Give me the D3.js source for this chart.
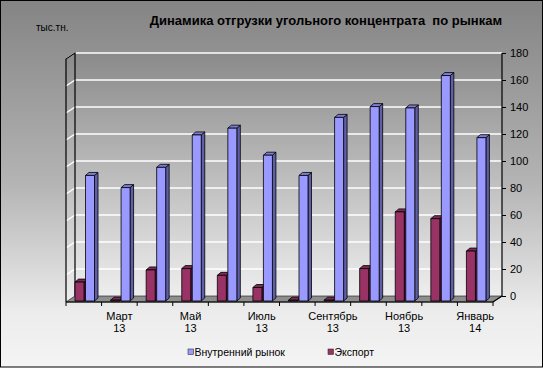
<!DOCTYPE html>
<html><head><meta charset="utf-8">
<script src="https://cdn.jsdelivr.net/npm/d3@7"></script>
<style>body{margin:0;background:#fff}svg{display:block;font-family:Arial,"Liberation Sans",sans-serif}</style>
</head><body><svg id="c" width="543" height="368"></svg>
<script>
const categories = ["Февраль 13","Март 13","Апрель 13","Май 13","Июнь 13","Июль 13","Август 13","Сентябрь 13","Октябрь 13","Ноябрь 13","Декабрь 13","Январь 14"];
const shownLabels = ["","Март 13","","Май 13","","Июль 13","","Сентябрь 13","","Ноябрь 13","","Январь 14"];
const domestic = [93,84,99,123,128,108,93,136,144,143,167,121];
const exportVals = [14,0.6,23,24,19,10,0.6,0.6,24,66,61,37];
const seriesNames = ["Экспорт","Внутренний рынок"];
const yTicks = [0,20,40,60,80,100,120,140,160,180];
const title = "Динамика отгрузки угольного концентрата  по рынкам";
const unitLabel = "тыс.тн.";

const svg = d3.select("#c");
const W=543,H=368;
const defs = svg.append("defs");
const g1 = defs.append("linearGradient").attr("id","bg").attr("x1",0).attr("y1",0).attr("x2",0).attr("y2",1);
g1.append("stop").attr("offset","0").attr("stop-color","#848484");
g1.append("stop").attr("offset","0.5").attr("stop-color","#b4b4b4");
g1.append("stop").attr("offset","0.85").attr("stop-color","#ececec");
g1.append("stop").attr("offset","1").attr("stop-color","#f4f4f4");
const g2 = defs.append("linearGradient").attr("id","wall").attr("x1",0).attr("y1",0).attr("x2",0).attr("y2",1);
g2.append("stop").attr("offset","0").attr("stop-color","#8a8a8a");
g2.append("stop").attr("offset","0.5").attr("stop-color","#bcbcbc");
g2.append("stop").attr("offset","1").attr("stop-color","#eeeeee");

svg.append("rect").attr("x",0.5).attr("y",0.5).attr("width",W-1).attr("height",H-1.5).attr("fill","url(#bg)").attr("stroke","#000");

// geometry
const DX=9, DY=-6; // depth offset
const frontL=66, frontR=493, frontY=302;
const y = d3.scaleLinear().domain([0,180]).range([296,53]);
const x0 = d3.scaleBand().domain(categories).range([frontL,frontR]).padding(0);
const x1 = d3.scaleBand().domain(seriesNames).range([9,30]).padding(0);
const colors = {
  "Экспорт":{front:"#993366",side:"#6e2249",top:"#7d2a55"},
  "Внутренний рынок":{front:"#9999ff",side:"#5f5fa8",top:"#7d7dd6"}
};

// walls
svg.append("rect").attr("x",frontL+DX).attr("y",y(180)).attr("width",frontR-frontL).attr("height",y(0)-y(180)).attr("fill","url(#wall)");
svg.append("polygon").attr("points",[[frontL,y(180)-DY],[frontL+DX,y(180)],[frontL+DX,y(0)],[frontL,frontY]].join(" ")).attr("fill","url(#wall)");
// gridlines
svg.selectAll(".grid").data(yTicks).join("line").attr("x1",frontL+DX).attr("x2",frontR+DX)
  .attr("y1",d=>y(d)).attr("y2",d=>y(d)).attr("stroke","#fff").attr("stroke-width",1.5);
svg.selectAll(".sgrid").data(yTicks.filter(d=>d>0)).join("line").attr("x1",frontL).attr("x2",frontL+DX)
  .attr("y1",d=>y(d)-DY).attr("y2",d=>y(d)).attr("stroke","#fff").attr("stroke-width",1.5);
// floor
svg.append("polygon").attr("points",[[frontL,frontY],[frontR,frontY],[frontR+DX,y(0)],[frontL+DX,y(0)]].join(" "))
  .attr("fill","#8e8e8e").attr("stroke","#333").attr("stroke-width",0.8);
// axis edges
const edge = svg.append("g").attr("stroke","#000").attr("stroke-width",1.2).attr("fill","none");
edge.append("path").attr("d",`M${frontL},${frontY}V${y(180)-DY}L${frontL+DX},${y(180)}V${y(0)}`);
edge.append("path").attr("d",`M${frontL},${frontY}H${frontR}L${frontR+DX},${y(0)}`);

// bars
const BW = x1.bandwidth()-1.5, BD=3.5, BH=3;
const base = frontY-1;
const yb = v => y(v) + (base - y(0));
const bars=[];
categories.forEach((c,i)=>{
  bars.push({c,s:"Экспорт",v:exportVals[i]});
  bars.push({c,s:"Внутренний рынок",v:domestic[i]});
});
const bg = svg.append("g");
bars.forEach(b=>{
  const x = x0(b.c)+x1(b.s), t = yb(b.v), col=colors[b.s];
  const gg = bg.append("g").attr("stroke","#000").attr("stroke-width",0.8).attr("stroke-linejoin","round");
  gg.append("polygon").attr("points",[[x+BW,t],[x+BW+BD,t-BH],[x+BW+BD,base-BH],[x+BW,base]].join(" ")).attr("fill",col.side);
  gg.append("polygon").attr("points",[[x,t],[x+BD,t-BH],[x+BW+BD,t-BH],[x+BW,t]].join(" ")).attr("fill",col.top);
  gg.append("rect").attr("x",x).attr("y",t).attr("width",BW).attr("height",Math.max(0,base-t)).attr("fill",col.front);
});

// right axis
const ax = svg.append("g").attr("transform",`translate(${frontR+DX},0)`)
  .call(d3.axisRight(y).tickValues(yTicks).tickSize(4).tickPadding(4));
ax.select(".domain").attr("stroke","#000").attr("stroke-width",1.2).attr("d",`M0,${y(180)}V${y(0)}`);
ax.selectAll(".tick line").attr("stroke","#000");
ax.selectAll("text").attr("font-size",11).attr("fill","#000").attr("font-family","Arial, Liberation Sans, sans-serif");

// x axis ticks
const bounds = categories.map(c=>x0(c)).concat([frontR]);
svg.selectAll(".xt").data(bounds).join("line").attr("x1",d=>d).attr("x2",d=>d).attr("y1",frontY).attr("y2",frontY+4).attr("stroke","#000");
const xl = svg.append("g").attr("font-size",11).attr("text-anchor","middle");
categories.forEach((c,i)=>{
  const lab = shownLabels[i]; if(!lab) return;
  const parts = lab.split(" ");
  const t = xl.append("text").attr("x",x0(c)+x0.bandwidth()/2).attr("y",320);
  t.append("tspan").attr("x",x0(c)+x0.bandwidth()/2).text(parts[0]);
  t.append("tspan").attr("x",x0(c)+x0.bandwidth()/2).attr("dy",12).text(parts[1]);
});

// title
svg.append("text").attr("x",502).attr("y",25).attr("text-anchor","end").attr("font-size",13).attr("font-weight","bold")
  .style("white-space","pre").text(title);
svg.append("text").attr("x",36).attr("y",31).attr("font-size",10).text(unitLabel);

// legend
const legendItems = [{s:"Внутренний рынок",x:188},{s:"Экспорт",x:328}];
legendItems.forEach(l=>{
  svg.append("rect").attr("x",l.x).attr("y",349).attr("width",5.5).attr("height",5.5).attr("fill",colors[l.s].front).attr("stroke","#333").attr("stroke-width",0.6);
  svg.append("text").attr("x",l.x+6.5).attr("y",356).attr("font-size",10.5).text(l.s);
});
</script></body></html>
